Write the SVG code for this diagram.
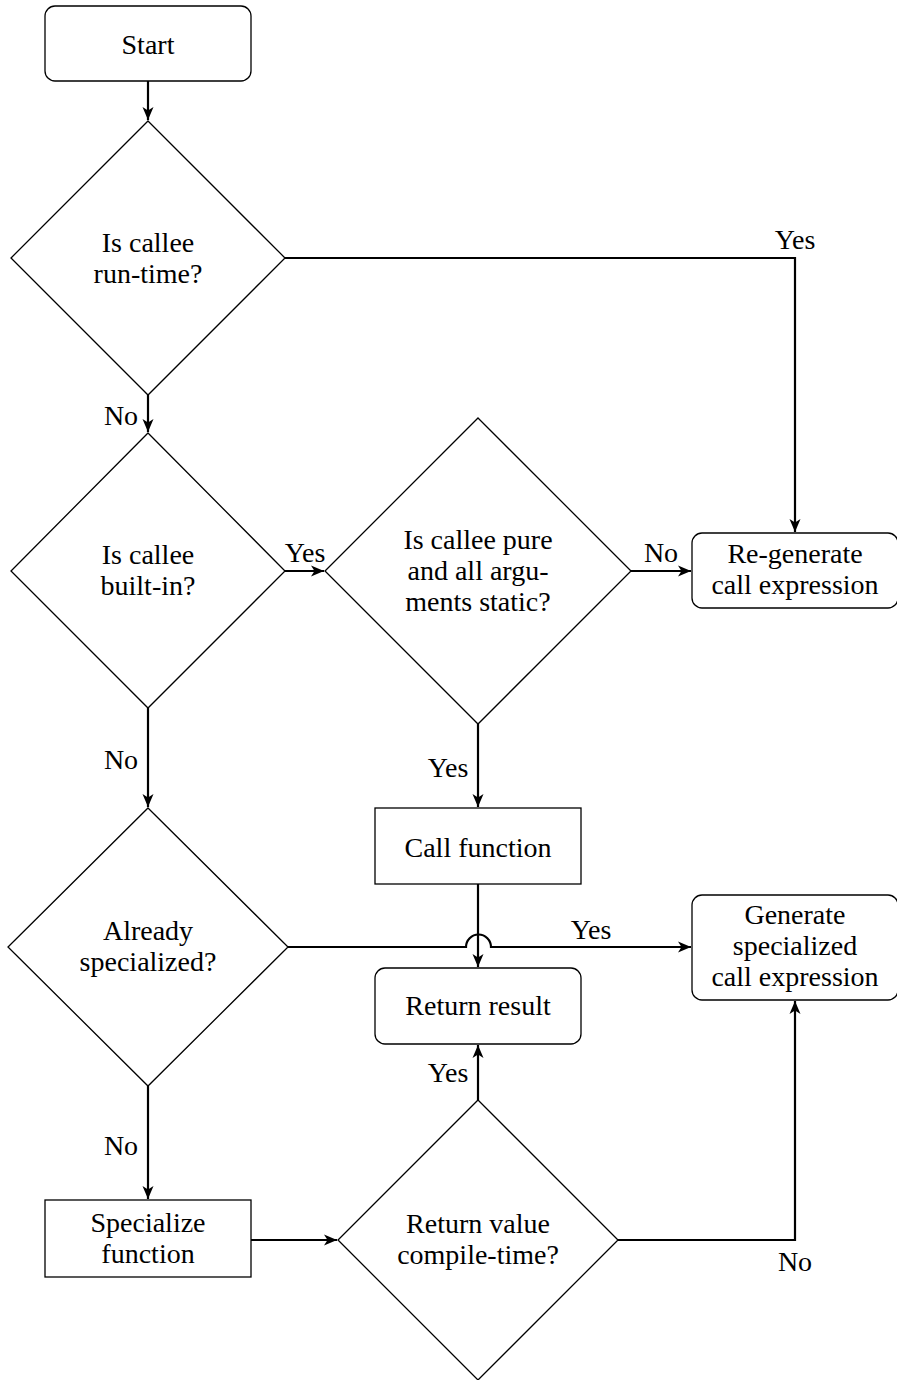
<svg xmlns="http://www.w3.org/2000/svg" width="897" height="1380" viewBox="0 0 897 1380" font-family="'Liberation Serif', 'Times New Roman', serif">
<style>
text{font-family:"Liberation Serif","Times New Roman",serif;font-size:28px;fill:#000;text-anchor:middle}
.node{fill:#fff;stroke:#000;stroke-width:1.3}
.edge{fill:none;stroke:#000;stroke-width:2.2}
</style>
<defs>
<marker id="arr" markerUnits="userSpaceOnUse" markerWidth="16" markerHeight="14" viewBox="0 0 16 14" refX="14" refY="7" orient="auto">
<path d="M1,1.5 L14,7 L1,12.5 L4.5,7 Z" fill="#000"/>
</marker>
</defs>
<rect width="897" height="1380" fill="#fff"/>
<g id="connectors">
<path class="edge" d="M148,81 V120" marker-end="url(#arr)"/>
<path class="edge" d="M285,258 H795 V532" marker-end="url(#arr)"/>
<path class="edge" d="M148,395 V432" marker-end="url(#arr)"/>
<path class="edge" d="M285,571 H324" marker-end="url(#arr)"/>
<path class="edge" d="M631,571 H691" marker-end="url(#arr)"/>
<path class="edge" d="M478,724 V807" marker-end="url(#arr)"/>
<path class="edge" d="M148,708 V807" marker-end="url(#arr)"/>
<path class="edge" d="M478,884 V967" marker-end="url(#arr)"/>
<path class="edge" d="M288,947 H466 A12.5,12.5 0 0 1 491,947 H691" marker-end="url(#arr)"/>
<path class="edge" d="M148,1086 V1199" marker-end="url(#arr)"/>
<path class="edge" d="M251,1240 H337" marker-end="url(#arr)"/>
<path class="edge" d="M478,1100 V1045" marker-end="url(#arr)"/>
<path class="edge" d="M618,1240 H795 V1001" marker-end="url(#arr)"/>
<text x="795" y="249">Yes</text>
<text x="121" y="425">No</text>
<text x="305" y="562">Yes</text>
<text x="661" y="562">No</text>
<text x="448" y="777">Yes</text>
<text x="121" y="769">No</text>
<text x="591" y="939">Yes</text>
<text x="121" y="1155">No</text>
<text x="448" y="1082">Yes</text>
<text x="795" y="1271">No</text>
</g>
<g id="start">
<rect class="node" x="45" y="6" width="206" height="75" rx="10"/>
<text x="148" y="54">Start</text>
</g>
<g id="runtime">
<polygon class="node" points="148,121 285,258 148,395 11,258"/>
<text x="148" y="252">Is callee</text>
<text x="148" y="283">run-time?</text>
</g>
<g id="builtin">
<polygon class="node" points="148,433 285,571 148,708 11,571"/>
<text x="148" y="564">Is callee</text>
<text x="148" y="595">built-in?</text>
</g>
<g id="pure">
<polygon class="node" points="478,418 631,571 478,724 325,571"/>
<text x="478" y="549">Is callee pure</text>
<text x="478" y="580">and all argu-</text>
<text x="478" y="611">ments static?</text>
</g>
<g id="regenerate">
<rect class="node" x="692" y="533" width="206" height="75" rx="10"/>
<text x="795" y="563">Re-generate</text>
<text x="795" y="594">call expression</text>
</g>
<g id="callfunction">
<rect class="node" x="375" y="808" width="206" height="76"/>
<text x="478" y="857">Call function</text>
</g>
<g id="specialized">
<polygon class="node" points="148,808 288,947 148,1086 8,947"/>
<text x="148" y="940">Already</text>
<text x="148" y="971">specialized?</text>
</g>
<g id="generate">
<rect class="node" x="692" y="895" width="206" height="105" rx="10"/>
<text x="795" y="924">Generate</text>
<text x="795" y="955">specialized</text>
<text x="795" y="986">call expression</text>
</g>
<g id="returnresult">
<rect class="node" x="375" y="968" width="206" height="76" rx="10"/>
<text x="478" y="1015">Return result</text>
</g>
<g id="specialize">
<rect class="node" x="45" y="1200" width="206" height="77"/>
<text x="148" y="1232">Specialize</text>
<text x="148" y="1263">function</text>
</g>
<g id="compiletime">
<polygon class="node" points="478,1100 618,1240 478,1380 338,1240"/>
<text x="478" y="1233">Return value</text>
<text x="478" y="1264">compile-time?</text>
</g>
</svg>
